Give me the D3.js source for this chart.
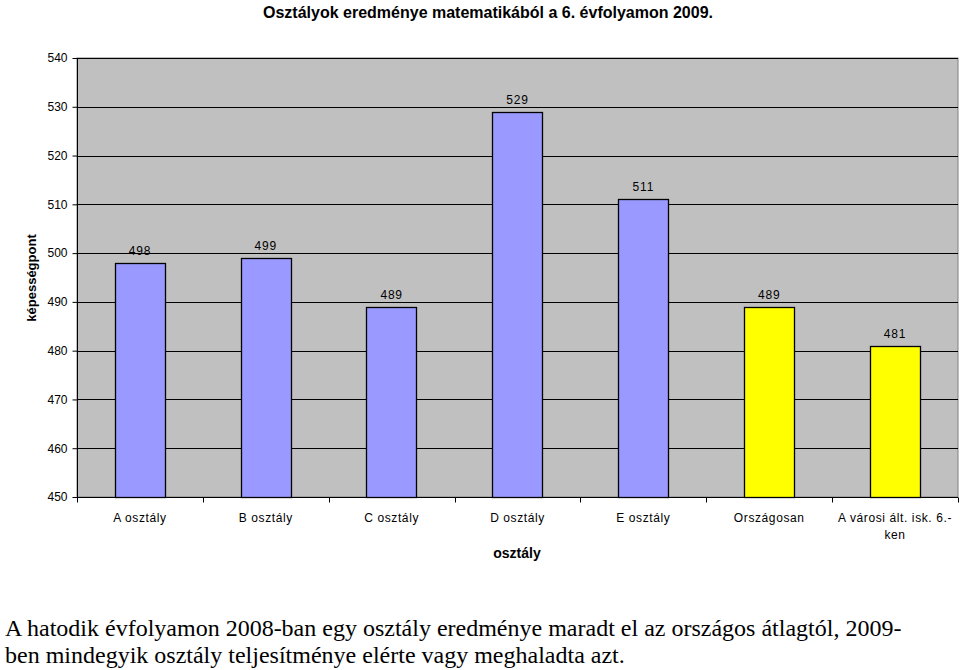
<!DOCTYPE html>
<html><head><meta charset="utf-8">
<script src="https://cdn.jsdelivr.net/npm/d3@7"></script>
<style>body{margin:0;background:#fff;} svg{display:block;}</style>
</head><body>
<svg id="c" width="960" height="670"></svg>
<script>
const categories = ["A osztály", "B osztály", "C osztály", "D osztály", "E osztály", "Országosan", "A városi ált. isk. 6.-ken"];
const values = [498, 499, 489, 529, 511, 489, 481];
const barColors = ["#9999ff", "#9999ff", "#9999ff", "#9999ff", "#9999ff", "#ffff00", "#ffff00"];
const yTicks = [450, 460, 470, 480, 490, 500, 510, 520, 530, 540];
const title = "Osztályok eredménye matematikából a 6. évfolyamon 2009.";
const xTitle = "osztály";
const yTitle = "képességpont";
const caption = ["A hatodik évfolyamon 2008-ban egy osztály eredménye maradt el az országos átlagtól, 2009-", "ben mindegyik osztály teljesítménye elérte vagy meghaladta azt."];

const svg = d3.select("#c");
const m = {l: 77, r: 958, t: 58, b: 497};
const x = d3.scaleBand().domain(categories).range([m.l, m.r]).paddingInner(0.6).paddingOuter(0.3);
const xb = d3.scaleBand().domain(categories).range([m.l, m.r]);
const y = d3.scaleLinear().domain([450, 540]).range([m.b, m.t]);
const font = "Liberation Sans, Arial, sans-serif";

svg.append("rect").attr("x", m.l).attr("y", m.t).attr("width", m.r - m.l).attr("height", m.b - m.t)
  .attr("fill", "#c0c0c0").attr("stroke", "#808080").attr("stroke-width", 1);

svg.append("g").selectAll("line").data(yTicks.slice(1)).join("line")
  .attr("x1", m.l).attr("x2", m.r).attr("y1", d => Math.round(y(d)) + 0.5).attr("y2", d => Math.round(y(d)) + 0.5)
  .attr("stroke", "#000").attr("stroke-width", 1);

const yAxis = svg.append("g").attr("transform", `translate(${m.l + 0.5},0)`)
  .call(d3.axisLeft(y).tickValues(yTicks).tickSize(5).tickPadding(5).tickFormat(d3.format("d")));
yAxis.select(".domain").attr("stroke", "#000").attr("d", `M0,${m.t}V${m.b}`);
yAxis.selectAll("text").attr("font-family", font).attr("font-size", 12).attr("fill", "#000");

const data = categories.map((c, i) => ({c, v: values[i], col: barColors[i]}));
svg.append("g").selectAll("rect").data(data).join("rect")
  .attr("x", d => Math.round(x(d.c)) + 0.5).attr("width", Math.round(x.bandwidth()))
  .attr("y", d => Math.round(y(d.v)) + 0.5).attr("height", d => Math.round(y(450) - y(d.v)))
  .attr("fill", d => d.col).attr("stroke", "#000").attr("stroke-width", 1.3);

svg.append("g").selectAll("text").data(data).join("text")
  .attr("x", d => x(d.c) + x.bandwidth() / 2).attr("y", d => y(d.v) - 8)
  .attr("text-anchor", "middle").attr("font-family", font).attr("font-size", 12).attr("letter-spacing", 0.8).attr("fill", "#000")
  .text(d => d.v);

const xAxis = svg.append("g").attr("transform", `translate(0,${m.b + 0.5})`);
xAxis.append("line").attr("x1", m.l).attr("x2", m.r).attr("stroke", "#000");
xAxis.selectAll("line.t").data(categories.concat(["end"])).join("line").attr("class", "t")
  .attr("x1", (d, i) => Math.round(m.l + i * xb.bandwidth()) + 0.5).attr("x2", (d, i) => Math.round(m.l + i * xb.bandwidth()) + 0.5)
  .attr("y1", 0).attr("y2", 5).attr("stroke", "#000");

const labelLines = [["A osztály"], ["B osztály"], ["C osztály"], ["D osztály"], ["E osztály"], ["Országosan"], ["A városi ált. isk. 6.-", "ken"]];
const lbl = xAxis.selectAll("text.c").data(categories).join("text").attr("class", "c")
  .attr("x", d => xb(d) + xb.bandwidth() / 2).attr("y", 24)
  .attr("text-anchor", "middle").attr("font-family", font).attr("font-size", 12).attr("letter-spacing", 0.6).attr("fill", "#000");
lbl.each(function(d, i) {
  const t = d3.select(this);
  labelLines[i].forEach((s, j) => t.append("tspan").attr("x", xb(d) + xb.bandwidth() / 2).attr("dy", j ? 17 : 0).text(s));
});

svg.append("text").attr("x", 517).attr("y", 558).attr("text-anchor", "middle")
  .attr("font-family", font).attr("font-size", 14).attr("font-weight", "bold").text(xTitle);
svg.append("text").attr("transform", "translate(36,278) rotate(-90)").attr("text-anchor", "middle")
  .attr("font-family", font).attr("font-size", 13).attr("font-weight", "bold").text(yTitle);
svg.append("text").attr("x", 488).attr("y", 18).attr("text-anchor", "middle")
  .attr("font-family", font).attr("font-size", 16).attr("font-weight", "bold").text(title);

caption.forEach((s, i) => svg.append("text").attr("x", 5).attr("y", 636 + i * 27)
  .attr("font-family", "Liberation Serif, Times New Roman, serif").attr("font-size", 24).attr("fill", "#000").text(s));
</script>
</body></html>
